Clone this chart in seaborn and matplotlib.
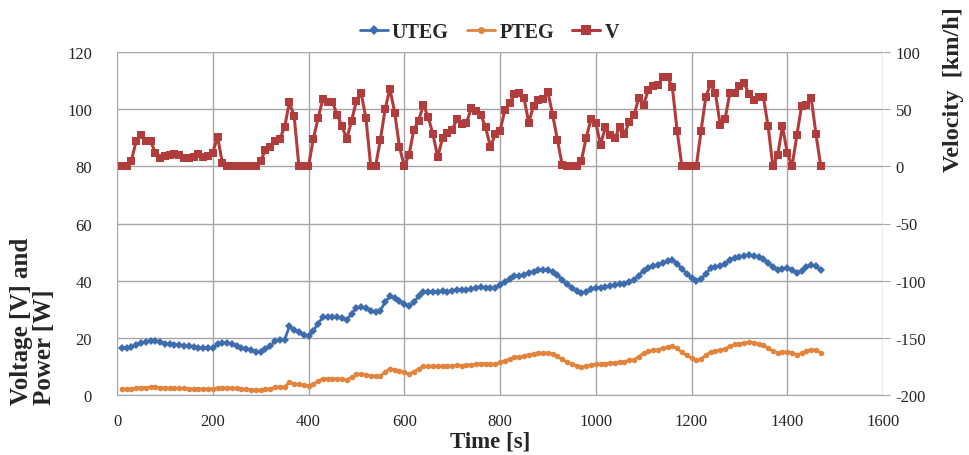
import numpy as np
import pandas as pd
import matplotlib
matplotlib.use("Agg")
import matplotlib.pyplot as plt
import seaborn as sns
from matplotlib.lines import Line2D

# ---------------- data ----------------
time_s = list(range(10, 1480, 10))

uteg = [16.6, 16.5, 16.8, 17.5, 18.3, 18.5, 19.0, 18.8, 18.5, 18.0,
        17.8, 17.6, 17.4, 17.2, 17.0, 16.7, 16.6, 16.5, 16.4, 16.3,
        18.0, 18.2, 18.2, 17.8, 17.3, 16.6, 16.2, 15.8, 15.2, 15.0,
        16.0, 17.0, 18.8, 19.2, 19.3, 24.0, 22.8, 22.0, 21.0, 20.5,
        22.5, 25.0, 27.2, 27.3, 27.2, 27.2, 26.8, 26.2, 28.5, 30.5,
        30.8, 30.3, 29.5, 29.2, 29.5, 32.5, 34.5, 33.8, 33.0, 32.0,
        31.0, 32.5, 34.5, 36.0, 36.2, 36.0, 36.2, 36.3, 36.2, 36.5,
        36.8, 36.6, 36.8, 37.2, 37.5, 37.8, 37.6, 37.4, 37.5, 38.5,
        39.5, 40.5, 41.5, 41.8, 42.0, 42.8, 43.2, 43.6, 43.9, 43.6,
        43.2, 42.0, 40.3, 38.8, 37.5, 36.4, 35.6, 36.2, 37.0, 37.4,
        37.6, 37.8, 38.0, 38.4, 38.8, 39.0, 39.6, 40.2, 41.8, 43.5,
        44.6, 45.0, 45.5, 46.2, 46.8, 47.2, 46.0, 44.0, 42.5, 41.0,
        40.0, 40.5, 42.5, 44.3, 44.8, 45.0, 45.8, 47.2, 48.0, 48.3,
        48.8, 49.0, 48.8, 48.3, 47.5, 46.2, 44.8, 43.9, 44.0, 44.5,
        43.8, 42.7, 43.5, 44.8, 45.5, 45.0, 43.8]

pteg = [2.1, 2.1, 2.2, 2.4, 2.6, 2.6, 2.8, 2.7, 2.6, 2.5,
        2.4, 2.4, 2.3, 2.3, 2.2, 2.1, 2.1, 2.1, 2.1, 2.0,
        2.5, 2.5, 2.5, 2.4, 2.3, 2.1, 2.0, 1.9, 1.8, 1.7,
        2.0, 2.2, 2.7, 2.8, 2.9, 4.4, 4.0, 3.7, 3.4, 3.2,
        3.9, 4.8, 5.7, 5.7, 5.7, 5.7, 5.5, 5.3, 6.2, 7.2,
        7.3, 7.1, 6.7, 6.6, 6.7, 8.1, 9.2, 8.8, 8.4, 7.9,
        7.4, 8.1, 9.2, 10.0, 10.1, 10.0, 10.1, 10.1, 10.1, 10.2,
        10.4, 10.3, 10.4, 10.6, 10.8, 11.0, 10.9, 10.8, 10.8, 11.4,
        12.0, 12.6, 13.2, 13.4, 13.6, 14.1, 14.4, 14.6, 14.8, 14.6,
        14.4, 13.6, 12.5, 11.6, 10.8, 10.2, 9.7, 10.1, 10.5, 10.8,
        10.9, 11.0, 11.1, 11.3, 11.6, 11.7, 12.1, 12.4, 13.4, 14.6,
        15.3, 15.6, 15.9, 16.4, 16.8, 17.1, 16.3, 14.9, 13.9, 12.9,
        12.3, 12.6, 13.9, 15.1, 15.4, 15.6, 16.1, 17.1, 17.7, 17.9,
        18.3, 18.5, 18.3, 17.9, 17.4, 16.4, 15.4, 14.8, 14.9, 15.2,
        14.8, 14.0, 14.6, 15.4, 15.9, 15.6, 14.8]

velocity = [0, 0, 5, 22, 27, 22, 22, 12, 7, 9,
            10, 11, 10, 7.5, 7, 8, 11, 8, 9, 12,
            26, 3, 0, 0, 0, 0, 0, 0, 0, 5,
            14, 17, 22, 24, 34, 56, 44, 0, 0, 0,
            24, 42, 59, 56, 56, 45, 35, 24, 40, 57,
            64, 42, 0, 0, 23, 50, 68, 47, 17, 0,
            10, 32, 40, 54, 43, 28, 8, 25, 29, 32,
            41, 37, 38, 51, 48, 45, 34, 17, 28, 31,
            49, 55, 63, 64, 60, 38, 53, 58, 59, 65,
            45, 23, 1, 0, 0, 0, 5, 25, 41, 38,
            19, 34, 27, 25, 34, 28, 39, 45, 60, 54,
            67, 70, 71, 78, 78, 69, 31, 0, 0, 0,
            0, 31, 61, 72, 64, 36, 41, 64, 64, 70,
            73, 63, 58, 61, 61, 35, 0, 10, 35, 12,
            0, 27, 53, 54, 60, 28, 0]

left_ticks = [0, 20, 40, 60, 80, 100, 120]
right_ticks = [-200, -150, -100, -50, 0, 50, 100]
x_ticks = [0, 200, 400, 600, 800, 1000, 1200, 1400, 1600]

df = pd.DataFrame({"Time": time_s, "UTEG": uteg, "PTEG": pteg, "V": velocity})

# ---------------- style ----------------
sns.set_style("white")
plt.rcParams["font.family"] = ["Liberation Serif", "DejaVu Serif"]
plt.rcParams["axes.unicode_minus"] = False

c_u = "#3E6DAE"
c_p = "#E2843C"
c_v = "#B03D3B"
grid_c = "#A6A6A6"

fig = plt.figure(figsize=(9.69, 4.56), dpi=100)
ax = fig.add_axes([117 / 969, 1 - 396 / 456, (883 - 117) / 969, (396 - 53) / 456])
ax2 = ax.twinx()

sns.lineplot(data=df, x="Time", y="UTEG", ax=ax, color=c_u, marker="D",
             markersize=4, markeredgewidth=0, linewidth=2, label="UTEG", legend=False)
sns.lineplot(data=df, x="Time", y="PTEG", ax=ax, color=c_p, marker="o",
             markersize=4, markeredgewidth=0, linewidth=2, label="PTEG", legend=False)
sns.lineplot(data=df, x="Time", y="V", ax=ax2, color=c_v, marker="s",
             markersize=6, markeredgewidth=0, linewidth=2.2, label="V", legend=False)

ax.set_xlim(0, 1600)
ax.set_ylim(0, 120)
ax2.set_ylim(-200, 100)
ax.set_xticks(x_ticks)
ax.set_yticks(left_ticks)
ax2.set_yticks(right_ticks)

ax.grid(True, color=grid_c, linewidth=1)
ax2.grid(False)
for a in (ax, ax2):
    for s in a.spines.values():
        s.set_visible(False)
ax.spines["bottom"].set_visible(True)
ax.spines["bottom"].set_color(grid_c)

ax.tick_params(axis="x", length=4, color=grid_c, labelsize=12, pad=9)
ax.tick_params(axis="y", length=0, labelsize=12, pad=18)
ax2.tick_params(axis="y", length=5, color=grid_c, labelsize=12, pad=4, direction="out")

ax.set_xlabel("")
ax.set_ylabel("")
ax2.set_ylabel("")

fig.text(0.506, 1 - 442 / 456, "Time [s]", ha="center", va="center",
         fontsize=16.5, fontweight="bold")
fig.text(0.034, 1 - 405 / 456, "Voltage [V] and\nPower [W]", rotation=90,
         ha="center", va="bottom", multialignment="left",
         fontsize=18, fontweight="bold", linespacing=1.0)
fig.text(0.984, 1 - 90 / 456, "Velocity  [km/h]", rotation=90,
         ha="center", va="center", fontsize=17.5, fontweight="bold")

handles = [Line2D([], [], color=c_u, marker="D", markersize=5, linewidth=2, markeredgewidth=0),
           Line2D([], [], color=c_p, marker="o", markersize=5, linewidth=2, markeredgewidth=0),
           Line2D([], [], color=c_v, marker="s", markersize=7, linewidth=2.2, markeredgewidth=0)]
fig.legend(handles, ["UTEG", "PTEG", "V"], loc="center", bbox_to_anchor=(0.505, 1 - 33 / 456),
           ncol=3, frameon=False, prop={"weight": "bold", "size": 14.5},
           handlelength=1.4, handletextpad=0.2, columnspacing=0.9)

fig.savefig("out.png", dpi=100)
